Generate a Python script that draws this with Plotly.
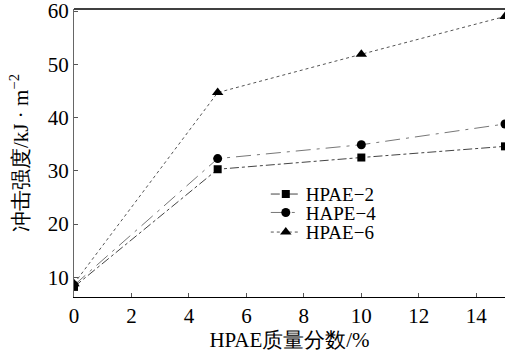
import plotly.graph_objects as go

x_vals = [0, 5, 10, 15]
hpae2 = [8.2, 30.3, 32.5, 34.6]
hape4 = [8.5, 32.3, 34.9, 38.8]
hpae6 = [8.8, 44.7, 51.9, 59.0]
names = ["HPAE−2", "HAPE−4", "HPAE−6"]
x_ticks = [0, 2, 4, 6, 8, 10, 12, 14]
y_ticks = [10, 20, 30, 40, 50, 60]

serif = "Liberation Serif"

fig = go.Figure()
styles = [
    dict(symbol="square", size=8, dash="dashdot", color="#444444"),
    dict(symbol="circle", size=9, dash="longdashdot", color="#777777"),
    dict(symbol="triangle-up", size=10, dash="dot", color="#555555"),
]
legend_ids = ["legend", "legend2", "legend3"]
for name, ys, st, lg in zip(names, [hpae2, hape4, hpae6], styles, legend_ids):
    fig.add_trace(go.Scatter(
        x=x_vals, y=ys, name=name, mode="lines+markers", legend=lg,
        line=dict(color=st["color"], width=1, dash=st["dash"]),
        marker=dict(symbol=st["symbol"], size=st["size"], color="black"),
    ))

leg_common = dict(xanchor="left", yanchor="middle", bgcolor="rgba(0,0,0,0)",
                  font=dict(size=19, family=serif, color="black"), itemwidth=30)
tick_font = dict(size=21, family=serif, color="black")
title_font = dict(size=21, family=serif, color="black")
fig.update_layout(
    width=505, height=352,
    margin=dict(l=74, r=0, t=9, b=55),
    plot_bgcolor="white", paper_bgcolor="white",
    font=dict(family=serif, color="black", size=18),
    showlegend=True,
    legend=dict(x=0.445, y=0.357, **leg_common),
    legend2=dict(x=0.445, y=0.293, **leg_common),
    legend3=dict(x=0.445, y=0.225, **leg_common),
    xaxis=dict(range=[0, 15], tickvals=x_ticks, ticks="inside", ticklen=4,
               tickcolor="#555", showline=True, linecolor="black", linewidth=1,
               showgrid=False, zeroline=False, ticklabeloverflow="allow",
               title=dict(text="HPAE质量分数/%", font=title_font, standoff=0),
               tickfont=tick_font),
    yaxis=dict(range=[6.3, 60.4], tickvals=y_ticks, ticks="inside", ticklen=4,
               tickcolor="#555", showline=True, linecolor="#666", linewidth=1,
               showgrid=False, zeroline=False, ticklabeloverflow="allow",
               title=dict(text="冲击强度/kJ · m<sup>−2</sup>", font=title_font, standoff=13),
               tickfont=tick_font),
)
fig.add_shape(type="line", xref="paper", yref="paper", x0=0, x1=1, y0=1, y1=1,
              line=dict(color="black", width=1.5))
fig.write_html("out.html")
